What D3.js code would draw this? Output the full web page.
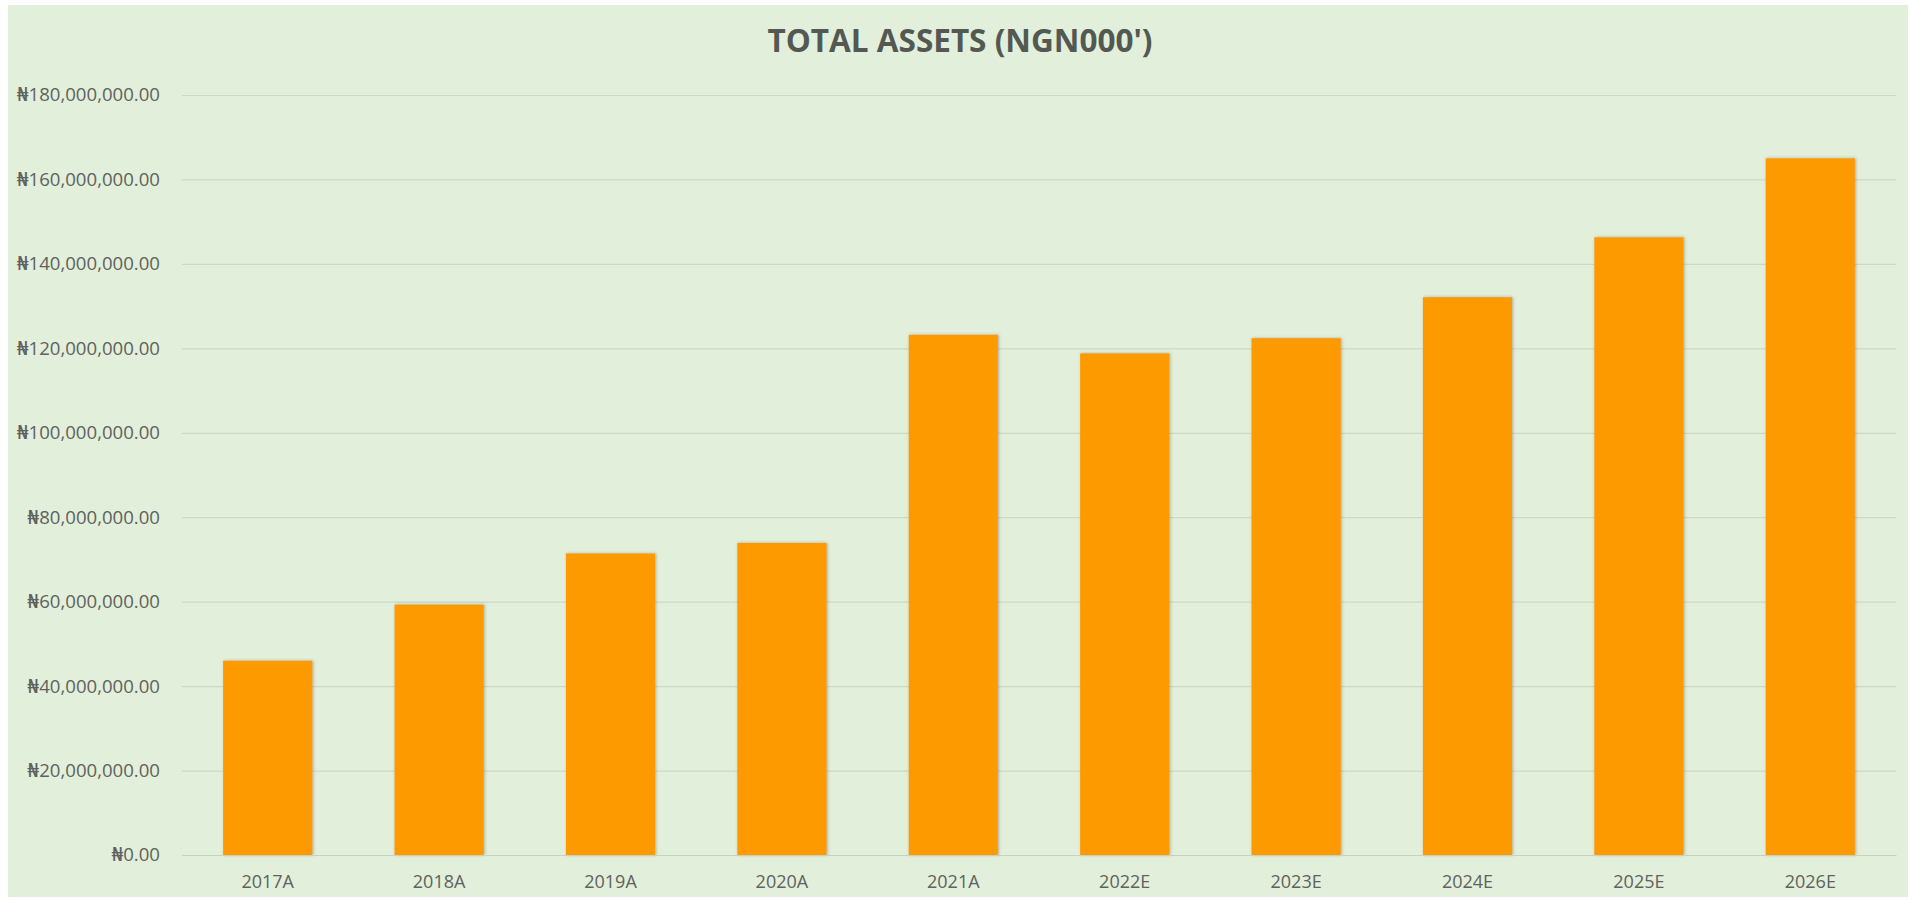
<!DOCTYPE html>
<html>
<head>
<meta charset="utf-8">
<script src="https://cdn.jsdelivr.net/npm/d3@7/dist/d3.min.js"></script>
<style>
  html, body { margin: 0; padding: 0; background: #ffffff; }
  svg { display: block; }
  text { font-family: "Open Sans", "DejaVu Sans", sans-serif; }
</style>
</head>
<body>
<svg id="chart" width="1912" height="900"></svg>
<script>
// Total assets by year (NGN thousands); A = actual, E = estimate
const years = ["2017A", "2018A", "2019A", "2020A", "2021A", "2022E", "2023E", "2024E", "2025E", "2026E"];
const totalAssets = [46000000, 59300000, 71400000, 73900000, 123200000, 118800000, 122400000, 132100000, 146300000, 165000000];
const yTicks = [0, 20000000, 40000000, 60000000, 80000000, 100000000, 120000000, 140000000, 160000000, 180000000];
const titleText = "TOTAL ASSETS (NGN000')";

const W = 1912, H = 900;
const margin = { left: 182, right: 16, top: 95, bottom: 45 };

const svg = d3.select("#chart");

// chart area fill
svg.append("rect")
  .attr("x", 8).attr("y", 5)
  .attr("width", W - 12).attr("height", H - 8)
  .attr("fill", "#e2efda");

const defs = svg.append("defs");
const shadow = defs.append("filter").attr("id", "barShadow")
  .attr("x", "-20%").attr("y", "-5%").attr("width", "140%").attr("height", "110%");
shadow.append("feDropShadow")
  .attr("dx", 1).attr("dy", 0).attr("stdDeviation", 1.5)
  .attr("flood-color", "#6b5a30").attr("flood-opacity", 0.45);

const x = d3.scaleBand()
  .domain(years)
  .range([margin.left, W - margin.right])
  .paddingInner(0.48)
  .paddingOuter(0.24);

const y = d3.scaleLinear()
  .domain([0, 180000000])
  .range([H - margin.bottom, margin.top]);

const fmt = v => "\u20A6" + d3.format(",.2f")(v);

// horizontal gridlines + value labels
const yAxis = d3.axisLeft(y)
  .tickValues(yTicks)
  .tickFormat(fmt)
  .tickSize(-(W - margin.left - margin.right))
  .tickPadding(22);

const gy = svg.append("g")
  .attr("transform", `translate(${margin.left},0)`)
  .call(yAxis);
gy.select(".domain").remove();
gy.selectAll(".tick line")
  .attr("stroke", "#cdd8c6")
  .attr("stroke-width", 1.2);
gy.selectAll(".tick text")
  .attr("fill", "#5f625e")
  .style("font-size", "18.6px");

// bars
svg.append("g")
  .selectAll("rect")
  .data(years.map((yr, i) => ({ yr, v: totalAssets[i] })))
  .join("rect")
  .attr("x", d => x(d.yr))
  .attr("y", d => y(d.v))
  .attr("width", x.bandwidth())
  .attr("height", d => y(0) - y(d.v))
  .attr("fill", "#fd9a03")
  .attr("filter", "url(#barShadow)");

// category axis
const xAxis = d3.axisBottom(x).tickSize(0).tickPadding(20);
const gx = svg.append("g")
  .attr("transform", `translate(0,${y(0)})`)
  .call(xAxis);
gx.select(".domain")
  .attr("stroke", "#c6d1c0")
  .attr("stroke-width", 1.2);
gx.selectAll(".tick text")
  .attr("fill", "#5f625e")
  .style("font-size", "18px");

// title
const title = svg.append("text")
  .attr("x", 960)
  .attr("y", 52)
  .attr("text-anchor", "middle")
  .attr("fill", "#545853")
  .style("font-size", "33px")
  .style("font-weight", "700")
  .text(titleText);
title.attr("textLength", 385).attr("lengthAdjust", "spacingAndGlyphs");
</script>
</body>
</html>
